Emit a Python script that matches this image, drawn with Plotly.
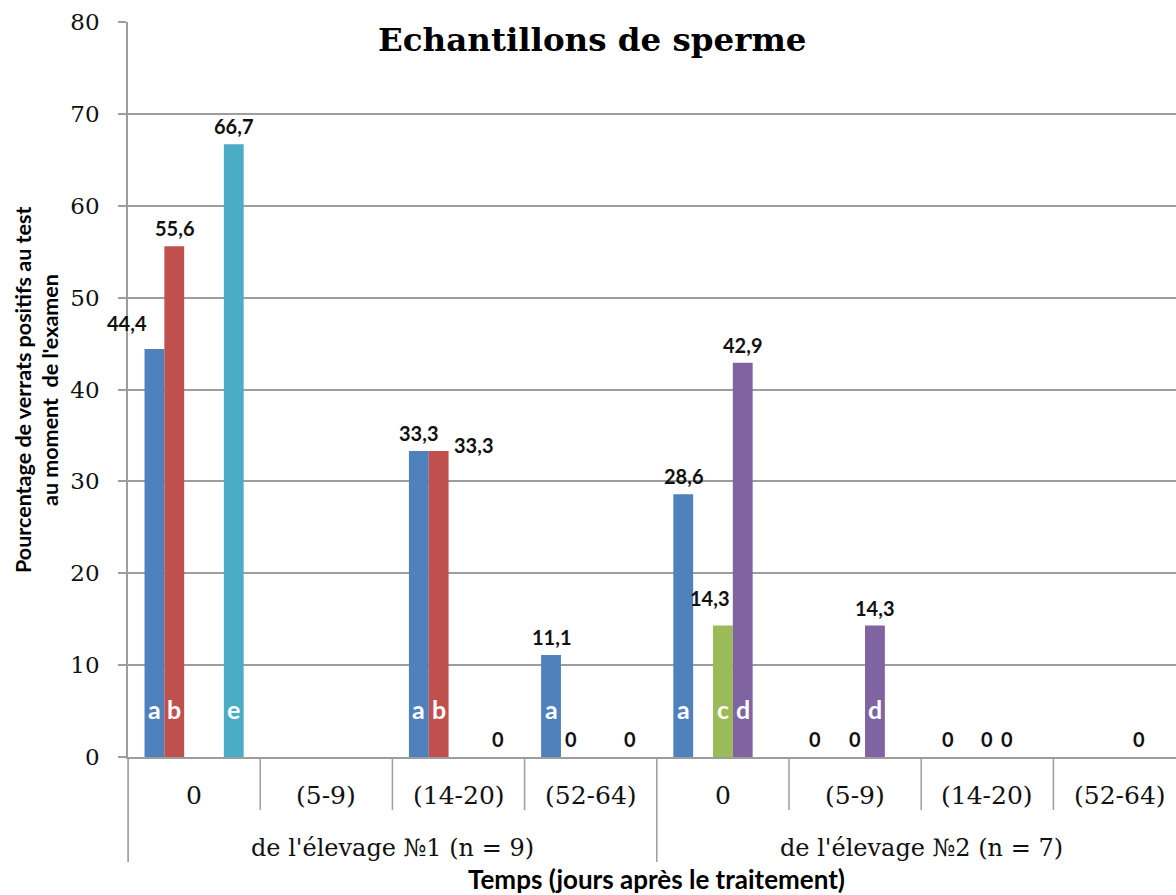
import plotly.graph_objects as go

# Categories: two farms, four sampling windows each
groups = ["de l'élevage №1 (n = 9)", "de l'élevage №2 (n = 7)"]
periods = ["0", "(5-9)", "(14-20)", "(52-64)"]
categories = [p for _ in groups for p in periods]

# Percent of boars testing positive, one list per test (None = not tested)
series_names = ["a", "b", "c", "d", "e"]
values_a = [44.4, None, 33.3, 11.1, 28.6, 0, 0, None]
values_b = [55.6, None, 33.3, 0, None, None, None, None]
values_c = [None, None, None, None, 14.3, 0, 0, None]
values_d = [None, None, None, None, 42.9, 14.3, 0, 0]
values_e = [66.7, None, 0, 0, None, None, None, None]
series_values = [values_a, values_b, values_c, values_d, values_e]
colors = ["#4F81BD", "#C0504D", "#9BBB59", "#8064A2", "#4BACC6"]

y_ticks = [0, 10, 20, 30, 40, 50, 60, 70, 80]

W, H = 1176, 895
ML, MR, MT, MB = 128, 0, 22, 138
PW, PH = W - ML - MR, H - MT - MB
BARGAP = 0.25
N = len(series_names)
BAR_W = (1 - BARGAP) / N
X_MAX = PW / 132.2  # visible span in category units

def py(pix):
    return (H - MB - pix) / PH

def px(pix):
    return (pix - ML) / PW

x_centers = [i + 0.5 for i in range(len(categories))]

SERIF = "DejaVu Serif"
SANS = "Lato"
GRID = "#9d9d9d"

fig = go.Figure()
for name, vals, col in zip(series_names, series_values, colors):
    fig.add_trace(go.Bar(x=x_centers, y=vals, name=name, marker_color=col,
                         marker_line_width=0, showlegend=False))

# manual nudges for a few value labels (pixels)
label_nudge = {(0, 0): (-27, 8), (1, 2): (35, -12), (2, 4): (-13, 10)}

ann = []
for si, vals in enumerate(series_values):
    for ci, v in enumerate(vals):
        if v is None:
            continue
        xb = x_centers[ci] + (si - (N - 1) / 2) * BAR_W
        dx, dy = label_nudge.get((si, ci), (0, 0))
        ann.append(dict(x=xb, y=v, xref="x", yref="y",
                        text="<b>" + f"{v:g}".replace(".", ",") + "</b>",
                        showarrow=False, yanchor="bottom", yshift=4 + dy, xshift=dx,
                        font=dict(family=SANS, size=20, color="#111"), ))
        if v > 0:
            ann.append(dict(x=xb, y=0, xref="x", yref="y", text="<b>" + series_names[si] + "</b>",
                            showarrow=False, yanchor="middle", yshift=48,
                            font=dict(family=SANS, size=25, color="white")))

# period labels and farm labels under the axis
for ci, c in enumerate(categories):
    ann.append(dict(x=x_centers[ci], y=py(795), xref="x", yref="paper", text=c,
                    showarrow=False, yanchor="middle",
                    font=dict(family=SERIF, size=25, color="#111")))
for gi, g in enumerate(groups):
    ann.append(dict(x=gi * 4 + 2, y=py(848), xref="x", yref="paper", text=g,
                    showarrow=False, yanchor="middle",
                    font=dict(family=SERIF, size=24, color="#111")))

ann.append(dict(x=px(592), y=py(40), xref="paper", yref="paper", xanchor="center",
                text="<b>Echantillons de sperme</b>", showarrow=False, yanchor="middle",
                font=dict(family=SERIF, size=32.5, color="black")))
ann.append(dict(x=px(656), y=py(879), xref="paper", yref="paper", xanchor="center",
                text="<b>Temps (jours après le traitement)</b>", showarrow=False,
                yanchor="middle", font=dict(family=SANS, size=26, color="black")))
ann.append(dict(x=px(23), y=py(390), xref="paper", yref="paper", textangle=-90,
                xanchor="center", yanchor="middle",
                text="<b>Pourcentage de verrats positifs au test</b>", showarrow=False,
                font=dict(family=SANS, size=21.5, color="black")))
ann.append(dict(x=px(50), y=py(390), xref="paper", yref="paper", textangle=-90,
                xanchor="center", yanchor="middle",
                text="<b>au moment  de l'examen</b>", showarrow=False,
                font=dict(family=SANS, size=21.5, color="black")))

# separators between periods and between farms
shapes = []
for b in range(0, 8):
    depth = 862 if b % 4 == 0 else 810
    shapes.append(dict(type="line", xref="x", yref="paper", x0=b, x1=b,
                       y0=0, y1=py(depth), line=dict(color=GRID, width=1.5)))
shapes.append(dict(type="line", xref="paper", yref="paper", x0=0, x1=0,
                   y0=0, y1=py(862), line=dict(color=GRID, width=1.5)))

fig.update_layout(
    width=W, height=H, margin=dict(l=ML, r=MR, t=MT, b=MB),
    paper_bgcolor="white", plot_bgcolor="white",
    barmode="group", bargap=BARGAP, bargroupgap=0,
    annotations=ann, shapes=shapes,
    xaxis=dict(range=[0, X_MAX], showticklabels=False, showgrid=False, zeroline=False,
               showline=True, linecolor=GRID, linewidth=1.5, ticks=""),
    yaxis=dict(range=[0, 80], tickvals=y_ticks, showgrid=True, gridcolor=GRID, gridwidth=1.5,
               zeroline=False, showline=True, linecolor=GRID, linewidth=1.5,
               ticks="outside", ticklen=8, tickcolor=GRID, tickwidth=1.5,
               ticklabelstandoff=14,
               tickfont=dict(family=SERIF, size=23, color="#111")),
)

fig.write_html("out.html")
